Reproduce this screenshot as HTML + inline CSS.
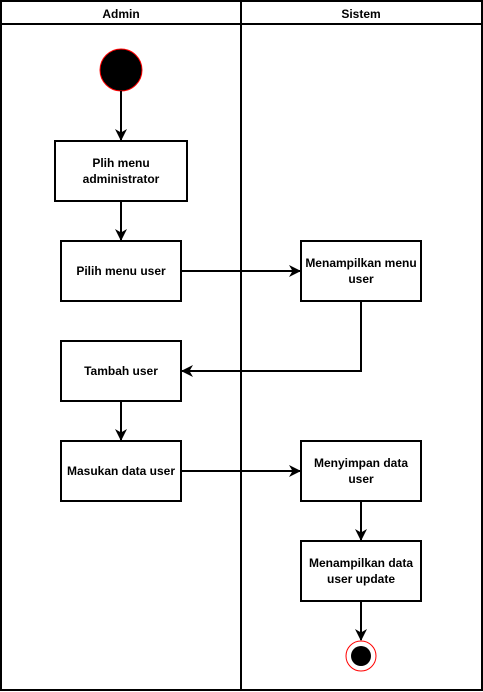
<!DOCTYPE html>
<html><head><meta charset="utf-8"><style>
html,body{margin:0;padding:0;background:#fff;}
svg{display:block;}
text{font-family:"Liberation Sans",Arial,sans-serif;font-size:12px;font-weight:bold;fill:#000;}
</style></head><body>
<svg width="483" height="692" viewBox="0 0 483 692" xmlns="http://www.w3.org/2000/svg">
<defs><marker id="a" markerWidth="12" markerHeight="12" refX="11" refY="6" orient="auto" markerUnits="userSpaceOnUse"><path d="M0,0 L12,6 L0,12 L3.5,6 Z" fill="#000"/></marker></defs>
<rect x="1" y="1" width="481" height="689" fill="none" stroke="#000" stroke-width="2"/>
<line x1="1" y1="24" x2="482" y2="24" stroke="#000" stroke-width="2"/>
<line x1="241" y1="1" x2="241" y2="690" stroke="#000" stroke-width="2"/>
<text x="121" y="18" text-anchor="middle">Admin</text>
<text x="361" y="18" text-anchor="middle">Sistem</text>
<circle cx="121" cy="70" r="21" fill="#000" stroke="#f00" stroke-width="1"/>
<g fill="#fff" stroke="#000" stroke-width="2">
<rect x="55" y="141" width="132" height="60"/>
<rect x="61" y="241" width="120" height="60"/>
<rect x="301" y="241" width="120" height="60"/>
<rect x="61" y="341" width="120" height="60"/>
<rect x="61" y="441" width="120" height="60"/>
<rect x="301" y="441" width="120" height="60"/>
<rect x="301" y="541" width="120" height="60"/>
</g>
<g text-anchor="middle">
<text x="121" y="167">Plih menu</text><text x="121" y="183">administrator</text>
<text x="121" y="275">Pilih menu user</text>
<text x="361" y="267">Menampilkan menu</text><text x="361" y="283">user</text>
<text x="121" y="375">Tambah user</text>
<text x="121" y="475">Masukan data user</text>
<text x="361" y="467">Menyimpan data</text><text x="361" y="483">user</text>
<text x="361" y="567">Menampilkan data</text><text x="361" y="583">user update</text>
</g>
<g stroke="#000" stroke-width="2" fill="none" marker-end="url(#a)">
<line x1="121" y1="91" x2="121" y2="140"/>
<line x1="121" y1="201" x2="121" y2="240"/>
<line x1="181" y1="271" x2="300" y2="271"/>
<polyline points="361,301 361,371 182,371"/>
<line x1="121" y1="401" x2="121" y2="440"/>
<line x1="181" y1="471" x2="300" y2="471"/>
<line x1="361" y1="501" x2="361" y2="540"/>
<line x1="361" y1="601" x2="361" y2="640"/>
</g>
<circle cx="361" cy="656" r="15" fill="#fff" stroke="#f00" stroke-width="1"/>
<circle cx="361" cy="656" r="10" fill="#000"/>
</svg>
</body></html>
